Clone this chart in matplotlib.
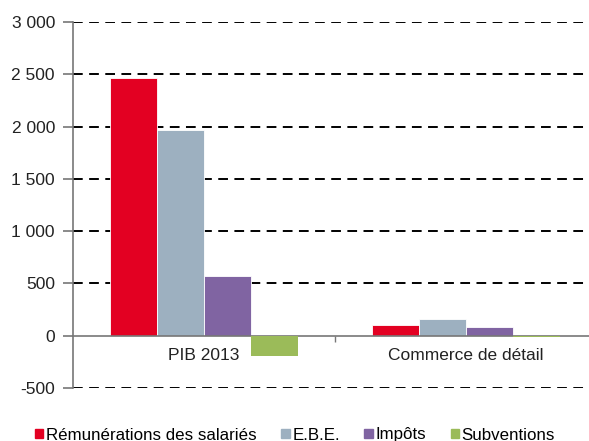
import numpy as np
import matplotlib.pyplot as plt
from matplotlib.patches import Patch

plt.rcParams['font.family'] = ['Liberation Sans', 'DejaVu Sans']

categories = ['PIB 2013', 'Commerce de détail']
series = ['Rémunérations des salariés', 'E.B.E.', 'Impôts', 'Subventions']
colors = ['#e30022', '#9db0c0', '#8064a2', '#9bbb59']
values = [
    [2460, 105],   # Rémunérations
    [1970, 160],   # E.B.E.
    [575, 80],     # Impôts
    [-198, -12],   # Subventions
]
yticks = [-500, 0, 500, 1000, 1500, 2000, 2500, 3000]
yticklabels = ['-500', '0', '500', '1 000', '1 500', '2 000', '2 500', '3 000']

fs = 12.5
fig = plt.figure(figsize=(5.89, 4.41), dpi=100)
ax = fig.add_axes([73/589, 1-388/441, (597-73)/589, (388-22)/441])

x = np.arange(len(categories))
w = 0.18
for i, (name, vals) in enumerate(zip(series, values)):
    if i == 3:
        ax.bar(x + (i-1.5)*w, vals, width=w, color=colors[i], linewidth=0,
               label=name, zorder=5)
    else:
        ax.bar(x + (i-1.5)*w, vals, width=w, color=colors[i], edgecolor='white',
               linewidth=0.6, label=name, zorder=3)

ax.set_xlim(-0.5, 1.5)
ax.set_ylim(-500, 3000)
ax.set_yticks(yticks)
ax.set_yticklabels(yticklabels, fontsize=fs, color='#222222')
for yv in yticks:
    if yv != 0:
        ax.axhline(yv, color='black', lw=1.4, ls=(0, (5, 3.3)), zorder=1)

for s in ['top', 'right']:
    ax.spines[s].set_visible(False)
ax.spines['left'].set_color('#777777')
ax.spines['left'].set_linewidth(1.2)
ax.spines['bottom'].set_position(('data', 0))
ax.spines['bottom'].set_color('#777777')
ax.spines['bottom'].set_linewidth(1.2)
ax.spines['bottom'].set_zorder(4)

ax.set_xticks(x)
ax.set_xticklabels(categories, fontsize=fs, color='#222222')
ax.tick_params(axis='x', which='major', length=0, pad=9)
ax.set_xticks([0.5], minor=True)
ax.tick_params(axis='x', which='minor', length=4, color='#777777', width=1)
ax.tick_params(axis='y', length=7, width=1.2, color='#777777', pad=6)

handles = [Patch(color=c) for c in colors]
fig.legend(handles, series, loc='center left', bbox_to_anchor=(35/589, 1-435/441),
           ncol=4, frameon=False, fontsize=12.2, handlelength=0.5, handleheight=0.5,
           handletextpad=0.15, columnspacing=1.45, borderaxespad=0, borderpad=0)

fig.savefig('out.png', dpi=100)
